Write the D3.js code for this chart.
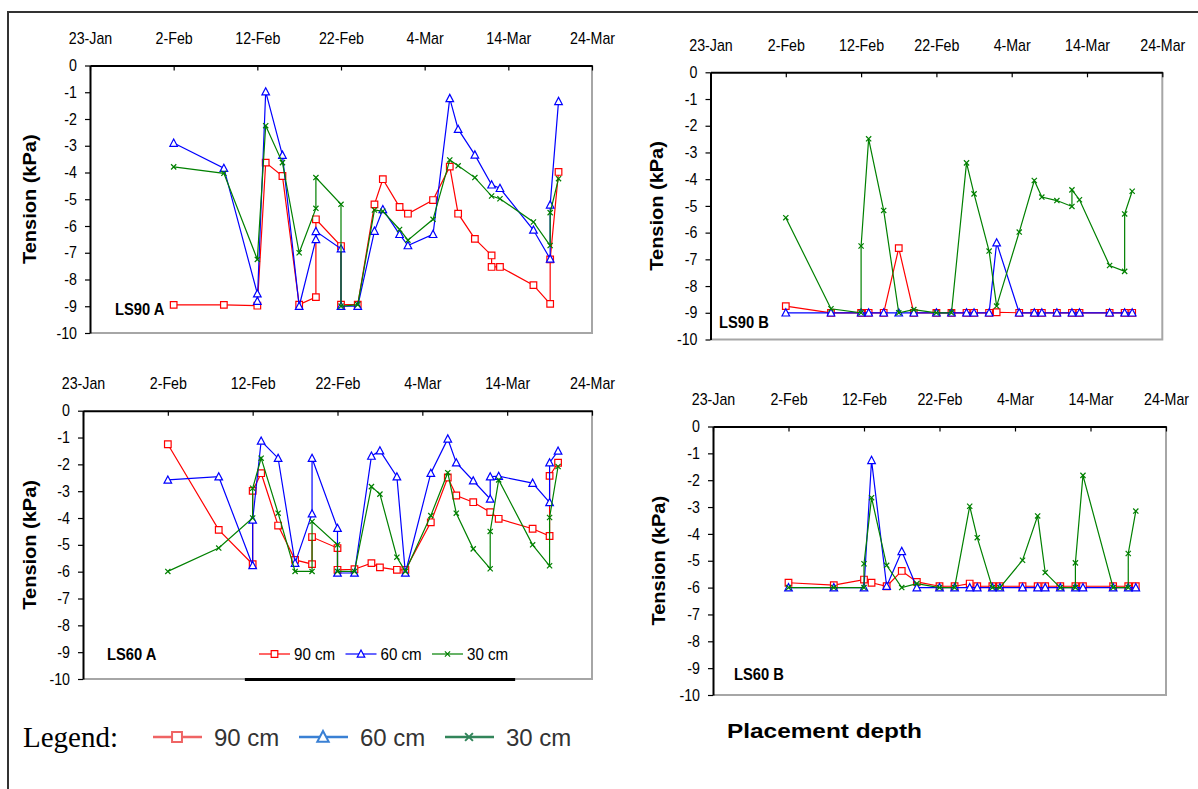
<!DOCTYPE html>
<meta charset="utf-8">
<script src="https://d3js.org/d3.v7.min.js"></script>
<style>
  body { margin: 0; background: #fff; }
  svg text { font-family: "Liberation Sans", Arial, sans-serif; fill: #000; }
</style>
<body>
<div id="chart"></div>
<script>
// tick labels and series
const tickLabels = ["23-Jan", "2-Feb", "12-Feb", "22-Feb", "4-Mar", "14-Mar", "24-Mar"];
const yTicks = [0, -1, -2, -3, -4, -5, -6, -7, -8, -9, -10];
const seriesNames = ["90 cm", "60 cm", "30 cm"];
const seriesColors = ["#ff0000", "#0000ff", "#008000"];
const legendColors = ["#ef6464", "#3a80d4", "#32855a"];

// LS90 A
const ls90a_90 = [["2-Feb",-8.95],["8-Feb",-8.95],["12-Feb",-8.98],["13-Feb",-3.63],["15-Feb",-4.13],["17-Feb",-8.94],["19-Feb",-8.66],["19-Feb",-5.75],["22-Feb",-6.75],["22-Feb",-8.94],["24-Feb",-8.94],["26-Feb",-5.19],["27-Feb",-4.25],["1-Mar",-5.29],["2-Mar",-5.54],["5-Mar",-5.03],["7-Mar",-3.78],["8-Mar",-5.54],["10-Mar",-6.48],["12-Mar",-7.1],["12-Mar",-7.53],["13-Mar",-7.53],["17-Mar",-8.21],["19-Mar",-8.91],["19-Mar",-7.25],["20-Mar",-3.98]];
const ls90a_60 = [["2-Feb",-2.9],["8-Feb",-3.84],["12-Feb",-8.53],["12-Feb",-8.81],["13-Feb",-0.98],["15-Feb",-3.35],["17-Feb",-9.0],["19-Feb",-6.5],["19-Feb",-6.2],["22-Feb",-6.85],["22-Feb",-9.0],["24-Feb",-9.0],["26-Feb",-6.19],["27-Feb",-5.38],["1-Mar",-6.31],["2-Mar",-6.73],["5-Mar",-6.31],["7-Mar",-1.23],["8-Mar",-2.38],["10-Mar",-3.34],["12-Mar",-4.46],["13-Mar",-4.59],["17-Mar",-6.15],["19-Mar",-7.23],["19-Mar",-5.21],["20-Mar",-1.34]];
const ls90a_30 = [["2-Feb",-3.79],["8-Feb",-4.03],["12-Feb",-7.25],["13-Feb",-2.25],["15-Feb",-3.63],["17-Feb",-7.0],["19-Feb",-5.34],["19-Feb",-4.19],["22-Feb",-5.19],["22-Feb",-9.0],["24-Feb",-8.94],["26-Feb",-5.4],["27-Feb",-5.45],["1-Mar",-6.13],["2-Mar",-6.53],["5-Mar",-5.75],["7-Mar",-3.53],["8-Mar",-3.75],["10-Mar",-4.19],["12-Mar",-4.88],["13-Mar",-4.98],["17-Mar",-5.85],["19-Mar",-6.73],["19-Mar",-5.5],["20-Mar",-4.23]];

// LS90 B
const ls90b_90 = [["2-Feb",-8.75],["8-Feb",-9],["12-Feb",-9],["13-Feb",-9],["15-Feb",-9],["17-Feb",-6.58],["19-Feb",-9],["22-Feb",-9],["24-Feb",-9],["26-Feb",-9],["27-Feb",-9],["1-Mar",-9],["2-Mar",-8.98],["5-Mar",-9],["7-Mar",-9],["8-Mar",-9],["10-Mar",-9],["12-Mar",-9],["13-Mar",-9],["17-Mar",-9],["19-Mar",-9],["20-Mar",-9]];
const ls90b_60 = [["2-Feb",-9],["8-Feb",-9],["12-Feb",-9],["13-Feb",-9],["15-Feb",-9],["17-Feb",-9],["19-Feb",-9],["22-Feb",-9],["24-Feb",-9],["26-Feb",-9],["27-Feb",-9],["1-Mar",-9],["2-Mar",-6.38],["5-Mar",-9],["7-Mar",-9],["8-Mar",-9],["10-Mar",-9],["12-Mar",-9],["13-Mar",-9],["17-Mar",-9],["19-Mar",-9],["20-Mar",-9]];
const ls90b_30 = [["2-Feb",-5.44],["8-Feb",-8.85],["12-Feb",-9],["12-Feb",-6.5],["13-Feb",-2.49],["15-Feb",-5.17],["17-Feb",-9],["19-Feb",-8.88],["22-Feb",-9],["24-Feb",-9],["26-Feb",-3.39],["27-Feb",-4.55],["1-Mar",-6.69],["2-Mar",-8.75],["5-Mar",-5.98],["7-Mar",-4.05],["8-Mar",-4.67],["10-Mar",-4.8],["12-Mar",-5.02],["12-Mar",-4.4],["13-Mar",-4.77],["17-Mar",-7.23],["19-Mar",-7.45],["19-Mar",-5.3],["20-Mar",-4.45]];

// LS60 A
const ls60a_90 = [["2-Feb",-1.25],["8-Feb",-4.44],["12-Feb",-5.72],["12-Feb",-2.99],["13-Feb",-2.33],["15-Feb",-4.28],["17-Feb",-5.56],["19-Feb",-5.72],["19-Feb",-4.71],["22-Feb",-5.12],["22-Feb",-5.93],["24-Feb",-5.91],["26-Feb",-5.68],["27-Feb",-5.84],["1-Mar",-5.93],["2-Mar",-5.93],["5-Mar",-4.16],["7-Mar",-2.49],["8-Mar",-3.16],["10-Mar",-3.41],["12-Mar",-3.78],["13-Mar",-4.03],["17-Mar",-4.4],["19-Mar",-4.67],["19-Mar",-2.43],["20-Mar",-1.94]];
const ls60a_60 = [["2-Feb",-2.58],["8-Feb",-2.46],["12-Feb",-5.77],["12-Feb",-4.07],["13-Feb",-1.13],["15-Feb",-1.77],["17-Feb",-5.68],["19-Feb",-3.84],["19-Feb",-1.77],["22-Feb",-4.38],["22-Feb",-6.05],["24-Feb",-6.05],["26-Feb",-1.69],["27-Feb",-1.49],["1-Mar",-2.46],["2-Mar",-6.05],["5-Mar",-2.33],["7-Mar",-1.05],["8-Mar",-1.94],["10-Mar",-2.61],["12-Mar",-3.29],["12-Mar",-2.46],["13-Mar",-2.44],["17-Mar",-2.7],["19-Mar",-3.42],["19-Mar",-1.94],["20-Mar",-1.5]];
const ls60a_30 = [["2-Feb",-5.99],["8-Feb",-5.12],["12-Feb",-4.0],["12-Feb",-2.89],["13-Feb",-1.77],["15-Feb",-3.82],["17-Feb",-5.99],["19-Feb",-5.99],["19-Feb",-4.13],["22-Feb",-5.0],["22-Feb",-5.99],["24-Feb",-5.99],["26-Feb",-2.83],["27-Feb",-3.11],["1-Mar",-5.46],["2-Mar",-5.99],["5-Mar",-3.91],["7-Mar",-2.31],["8-Mar",-3.82],["10-Mar",-5.15],["12-Mar",-5.89],["12-Mar",-4.5],["13-Mar",-2.58],["17-Mar",-5.0],["19-Mar",-5.78],["19-Mar",-3.98],["20-Mar",-2.08]];

// LS60 B
const ls60b_90 = [["2-Feb",-5.82],["8-Feb",-5.91],["12-Feb",-5.7],["13-Feb",-5.82],["15-Feb",-5.95],["17-Feb",-5.38],["19-Feb",-5.79],["22-Feb",-5.95],["24-Feb",-5.95],["26-Feb",-5.85],["27-Feb",-5.95],["1-Mar",-5.95],["2-Mar",-5.95],["5-Mar",-5.95],["7-Mar",-5.95],["8-Mar",-5.95],["10-Mar",-5.95],["12-Mar",-5.95],["13-Mar",-5.95],["17-Mar",-5.95],["19-Mar",-5.95],["20-Mar",-5.95]];
const ls60b_60 = [["2-Feb",-6],["8-Feb",-6],["12-Feb",-6],["13-Feb",-1.26],["15-Feb",-5.95],["17-Feb",-4.65],["19-Feb",-6],["22-Feb",-6],["24-Feb",-6],["26-Feb",-6],["27-Feb",-6],["1-Mar",-6],["2-Mar",-6],["5-Mar",-6],["7-Mar",-6],["8-Mar",-6],["10-Mar",-6],["12-Mar",-6],["13-Mar",-6],["17-Mar",-6],["19-Mar",-6],["20-Mar",-6]];
const ls60b_30 = [["2-Feb",-6],["8-Feb",-6],["12-Feb",-6],["12-Feb",-5.11],["13-Feb",-2.65],["15-Feb",-5.17],["17-Feb",-6],["19-Feb",-5.85],["22-Feb",-6],["24-Feb",-6],["26-Feb",-2.97],["27-Feb",-4.14],["1-Mar",-6],["2-Mar",-6],["5-Mar",-4.98],["7-Mar",-3.33],["8-Mar",-5.44],["10-Mar",-6],["12-Mar",-6],["12-Mar",-5.08],["13-Mar",-1.82],["17-Mar",-6],["19-Mar",-6],["19-Mar",-4.73],["20-Mar",-3.15]];

var parseDay = d3.timeParse("%d-%b-%Y");
function toDate(s) { return parseDay(s + "-2007"); }

var SX = 0.89; // the source picture is squeezed a bit horizontally

var panels = [
  {label: "LS90 A", left: 90, right: 592, top: 65.5, bottom: 333, lx: 115, ly: 315, tx: 36, data: [ls90a_90, ls90a_60, ls90a_30]},
  {label: "LS90 B", left: 710.5, right: 1162.3, top: 72.3, bottom: 339.5, lx: 719, ly: 328, tx: 662.5, data: [ls90b_90, ls90b_60, ls90b_30]},
  {label: "LS60 A", left: 83, right: 592, top: 410.7, bottom: 679, lx: 107, ly: 660, tx: 36, data: [ls60a_90, ls60a_60, ls60a_30], legend: true},
  {label: "LS60 B", left: 713, right: 1166, top: 426.5, bottom: 695, lx: 734, ly: 680, tx: 664.5, data: [ls60b_90, ls60b_60, ls60b_30]}
];

var svg = d3.select("#chart").append("svg")
  .attr("width", 1198)
  .attr("height", 789);

// outer frame
svg.append("path")
  .attr("d", "M8,789L8,12L1198,12")
  .attr("fill", "none")
  .attr("stroke", "#333")
  .attr("stroke-width", 2);

function markerPath(i, s) {
  s = s || 1;
  if (i == 0) return "M" + (-3.3*s) + "," + (-3.3*s) + "h" + (6.6*s) + "v" + (6.6*s) + "h" + (-6.6*s) + "Z";
  if (i == 1) return "M0," + (-4*s) + "L" + (3.8*s) + "," + (3.2*s) + "L" + (-3.8*s) + "," + (3.2*s) + "Z";
  return "M" + (-2.6*s) + "," + (-2.6*s) + "L" + (2.6*s) + "," + (2.6*s) + "M" + (-2.6*s) + "," + (2.6*s) + "L" + (2.6*s) + "," + (-2.6*s);
}

panels.forEach(function(p) {
  var x = d3.scaleTime()
    .domain([toDate(tickLabels[0]), toDate(tickLabels[tickLabels.length - 1])])
    .range([p.left, p.right]);
  var y = d3.scaleLinear()
    .domain([0, -10])
    .range([p.top, p.bottom]);

  var g = svg.append("g");

  // right and bottom borders (grey)
  g.append("path")
    .attr("d", "M" + p.right + "," + p.top + "L" + p.right + "," + p.bottom + "L" + p.left + "," + p.bottom)
    .attr("fill", "none")
    .attr("stroke", "#a6a6a6")
    .attr("stroke-width", 2);

  // top axis with dates
  var xAxis = g.append("g")
    .attr("transform", "translate(0," + p.top + ")")
    .call(d3.axisTop(x)
      .tickValues(tickLabels.map(toDate))
      .tickFormat(d3.timeFormat("%-d-%b"))
      .tickSize(-5)
      .tickSizeOuter(0)
      .tickPadding(21.5));
  xAxis.select(".domain").attr("stroke", "#000").attr("stroke-width", 2);
  xAxis.selectAll(".tick line").attr("stroke", "#000").attr("stroke-width", 1.2);
  xAxis.selectAll(".tick text")
    .attr("font-size", 16)
    .attr("font-family", "Liberation Sans, Arial, sans-serif")
    .attr("transform", "scale(" + SX + ",1)");

  // left axis
  var yAxis = g.append("g")
    .attr("transform", "translate(" + p.left + ",0)")
    .call(d3.axisLeft(y)
      .tickValues(yTicks)
      .tickFormat(function(d) { return String(d); })
      .tickSize(5)
      .tickSizeOuter(0)
      .tickPadding(9.6));
  yAxis.select(".domain").attr("stroke", "#000").attr("stroke-width", 2);
  yAxis.selectAll(".tick line").attr("stroke", "#000").attr("stroke-width", 1.2);
  yAxis.selectAll(".tick text")
    .attr("font-size", 16)
    .attr("font-family", "Liberation Sans, Arial, sans-serif")
    .attr("transform", "scale(" + SX + ",1)");

  // y title
  g.append("text")
    .attr("transform", "translate(" + p.tx + "," + ((p.top + p.bottom) / 2) + ")rotate(-90)scale(1," + SX + ")")
    .attr("text-anchor", "middle")
    .attr("font-size", 20)
    .attr("font-weight", "bold")
    .text("Tension (kPa)");

  // series
  var line = d3.line()
    .x(function(d) { return x(toDate(d[0])); })
    .y(function(d) { return y(d[1]); });

  p.data.forEach(function(series, i) {
    g.append("path")
      .datum(series)
      .attr("d", line)
      .attr("fill", "none")
      .attr("stroke", seriesColors[i])
      .attr("stroke-width", 1.2);
    g.selectAll(".m" + i)
      .data(series)
      .enter()
      .append("path")
      .attr("class", "m" + i)
      .attr("transform", function(d) { return "translate(" + x(toDate(d[0])) + "," + y(d[1]) + ")"; })
      .attr("d", markerPath(i))
      .attr("fill", i == 2 ? "none" : "#fff")
      .attr("stroke", seriesColors[i])
      .attr("stroke-width", 1.2);
  });

  // panel label
  g.append("text")
    .attr("transform", "translate(" + p.lx + "," + p.ly + ")scale(0.92,1)")
    .attr("font-size", 16)
    .attr("font-weight", "bold")
    .text(p.label);

  if (p.legend) {
    // odd black stroke under the lower axis in the source
    var w = p.right - p.left;
    g.append("line")
      .attr("x1", p.left + w * 0.318)
      .attr("x2", p.left + w * 0.849)
      .attr("y1", p.bottom + 0.5)
      .attr("y2", p.bottom + 0.5)
      .attr("stroke", "#000")
      .attr("stroke-width", 3);

    seriesNames.forEach(function(name, i) {
      var lx = 259 + i * 86.5, ly = 654;
      g.append("line")
        .attr("x1", lx).attr("x2", lx + 31)
        .attr("y1", ly).attr("y2", ly)
        .attr("stroke", seriesColors[i])
        .attr("stroke-width", 1.2);
      g.append("path")
        .attr("transform", "translate(" + (lx + 15.5) + "," + ly + ")")
        .attr("d", markerPath(i))
        .attr("fill", i == 2 ? "none" : "#fff")
        .attr("stroke", seriesColors[i])
        .attr("stroke-width", 1.2);
      g.append("text")
        .attr("transform", "translate(" + (lx + 35) + "," + (ly + 6) + ")scale(" + SX + ",1)")
        .attr("font-size", 17)
        .text(name);
    });
  }
});

// bottom legend (pasted image in the source)
svg.append("text")
  .attr("x", 23)
  .attr("y", 747)
  .attr("font-family", "Liberation Serif, Times New Roman, serif")
  .style("font-family", "'Liberation Serif', 'Times New Roman', serif")
  .attr("font-size", 29)
  .text("Legend:");

seriesNames.forEach(function(name, i) {
  var lx = 153 + i * 146, ly = 737;
  svg.append("line")
    .attr("x1", lx).attr("x2", lx + 49)
    .attr("y1", ly).attr("y2", ly)
    .attr("stroke", legendColors[i])
    .attr("stroke-width", 2.5);
  svg.append("path")
    .attr("transform", "translate(" + (lx + 24) + "," + ly + ")")
    .attr("d", markerPath(i, 1.5))
    .attr("fill", i == 2 ? "none" : "#fff")
    .attr("stroke", legendColors[i])
    .attr("stroke-width", 2);
  svg.append("text")
    .attr("x", lx + 61)
    .attr("y", ly + 9)
    .attr("font-size", 24)
    .style("fill", "#333")
    .text(name);
});

svg.append("text")
  .attr("x", 727)
  .attr("y", 738)
  .attr("font-size", 20)
  .attr("font-weight", "bold")
  .attr("textLength", 195)
  .attr("lengthAdjust", "spacingAndGlyphs")
  .text("Placement depth");
</script>
</body>
